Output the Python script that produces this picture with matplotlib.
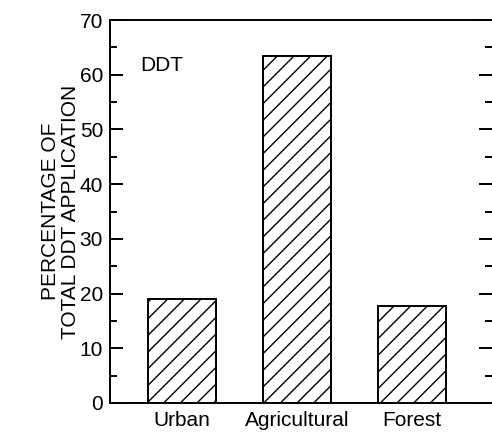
import matplotlib
matplotlib.use("Agg")
import matplotlib.pyplot as plt
from matplotlib.ticker import MultipleLocator

land_use = ["Urban", "Agricultural", "Forest"]
ddt_pct = [19.0, 63.5, 17.7]

plt.rcParams['font.family'] = ['Liberation Sans', 'DejaVu Sans']
plt.rcParams['hatch.linewidth'] = 1.0

fig = plt.figure(figsize=(4.92, 4.38), dpi=100)
ax = fig.add_axes([110 / 492, 1 - 403 / 438, 1 - 110 / 492, (403 - 20) / 438])

x = range(len(land_use))
ax.bar(x, ddt_pct, width=0.586, color='white', edgecolor='black',
       linewidth=1.4, hatch='//')

ax.set_xlim(-0.626, 2.696)
ax.set_ylim(0, 70)
ax.set_xticks(list(x))
ax.set_xticklabels(land_use, fontsize=15)
ax.yaxis.set_major_locator(MultipleLocator(10))
ax.yaxis.set_minor_locator(MultipleLocator(5))

ax.spines['right'].set_visible(False)
for s in ['left', 'top', 'bottom']:
    ax.spines[s].set_linewidth(1.4)

ax.tick_params(axis='y', which='major', direction='in', length=9.5, width=1.4,
               labelsize=15, pad=5, right=True)
ax.tick_params(axis='y', which='minor', direction='in', length=5, width=1.4,
               right=True)
ax.tick_params(axis='x', length=0, pad=6)

ax.set_ylabel("PERCENTAGE OF\nTOTAL DDT APPLICATION", fontsize=15,
              labelpad=0, linespacing=1.05)
ax.text(0.079, 0.88, "DDT", transform=ax.transAxes, fontsize=15,
        ha='left', va='center')

fig.savefig("out.png", dpi=100)
